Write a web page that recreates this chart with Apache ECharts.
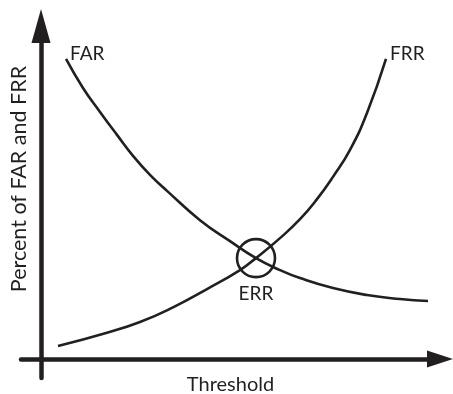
<!DOCTYPE html>
<html>
<head>
<meta charset="utf-8">
<script src="https://cdn.jsdelivr.net/npm/echarts@6/dist/echarts.min.js"></script>
<style>
html,body{margin:0;padding:0;background:#fff;}
#chart{width:453px;height:394px;}
</style>
</head>
<body>
<div id="chart"></div>
<script>
// Data (threshold on 0-100 scale, percent on 0-100 scale)
var farThreshold = [6.25, 10.5, 14.75, 19, 23, 27.25, 31.5, 39.75, 47.25, 53.75, 59.75, 64.75, 73, 81.5, 89.75, 96.75];
var farPercent   = [90.1, 81.4, 74.2, 67.3, 61.0, 55.3, 50.5, 41.7, 35.4, 30.3, 26.7, 24.3, 21.3, 19.2, 18.0, 17.4];
var frrThreshold = [4.25, 16.5, 24.75, 33, 41.5, 49.75, 53.75, 59.75, 64.75, 69, 73, 77.25, 81.5, 86.25];
var frrPercent   = [3.9, 7.9, 11.1, 15.5, 21.0, 26.7, 30.3, 36.3, 42.0, 48.0, 54.7, 62.8, 73.9, 90.1];
var errPoint = [53.75, 30.3];
var seriesNames = ['FAR', 'FRR'];
var errLabel = 'ERR';
var xAxisName = 'Threshold';
var yAxisName = 'Percent of FAR and FRR';

var ink = '#231f20';
var font = 'Lato';

function pairs(xs, ys, name) {
  return xs.map(function (x, i) {
    var item = { value: [x, ys[i]] };
    if ((i === 0 && name === 'FAR') || (i === xs.length - 1 && name === 'FRR')) {
      item.label = { show: true, formatter: name, position: 'right', distance: 4, offset: [0, -5] };
    }
    return item;
  });
}

var chart = echarts.init(document.getElementById('chart'), null, { renderer: 'canvas' });
chart.setOption({
  animation: false,
  backgroundColor: '#fff',
  textStyle: { fontFamily: font, color: ink },
  grid: { left: 21, right: 13, top: 26, bottom: 16, containLabel: false, outerBoundsMode: 'none' },
  xAxis: {
    type: 'value', min: -5, max: 99.75,
    axisLine: { onZero: true, symbol: ['none', 'triangle'], symbolSize: [17, 26], lineStyle: { color: ink, width: 4.5 } },
    axisTick: { show: false }, axisLabel: { show: false }, splitLine: { show: false },
    name: xAxisName, nameLocation: 'middle', nameGap: -3,
    nameTextStyle: { fontFamily: font, fontSize: 20, color: ink, verticalAlign: 'top' }
  },
  yAxis: {
    type: 'value', min: -5.7, max: 100,
    axisLine: { onZero: true, symbol: ['none', 'triangle'], symbolSize: [19, 34], lineStyle: { color: ink, width: 4.5 } },
    axisTick: { show: false }, axisLabel: { show: false }, splitLine: { show: false },
    name: yAxisName, nameLocation: 'middle', nameGap: -9, nameRotate: 90,
    nameTextStyle: { fontFamily: font, fontSize: 21.5, color: ink, padding: [0, 0, 0, 46] }
  },
  series: [
    {
      name: seriesNames[0], type: 'line', smooth: 0.5,
      data: pairs(farThreshold, farPercent, 'FAR'),
      symbol: 'circle', symbolSize: 0, showSymbol: true,
      lineStyle: { color: ink, width: 2.6 }, itemStyle: { color: ink },
      label: { show: false, fontFamily: font, fontSize: 19, color: ink },
      emphasis: { disabled: true }
    },
    {
      name: seriesNames[1], type: 'line', smooth: 0.5,
      data: pairs(frrThreshold, frrPercent, 'FRR'),
      symbol: 'circle', symbolSize: 0, showSymbol: true,
      lineStyle: { color: ink, width: 2.6 }, itemStyle: { color: ink },
      label: { show: false, fontFamily: font, fontSize: 19, color: ink },
      emphasis: { disabled: true }
    },
    {
      name: errLabel, type: 'scatter',
      data: [errPoint],
      symbol: 'circle', symbolSize: 38,
      itemStyle: { color: 'rgba(0,0,0,0)', borderColor: ink, borderWidth: 2.6, opacity: 1 },
      label: { show: true, formatter: errLabel, position: 'bottom', distance: 6, fontFamily: font, fontSize: 19, color: ink },
      emphasis: { disabled: true }
    }
  ]
});
</script>
</body>
</html>
